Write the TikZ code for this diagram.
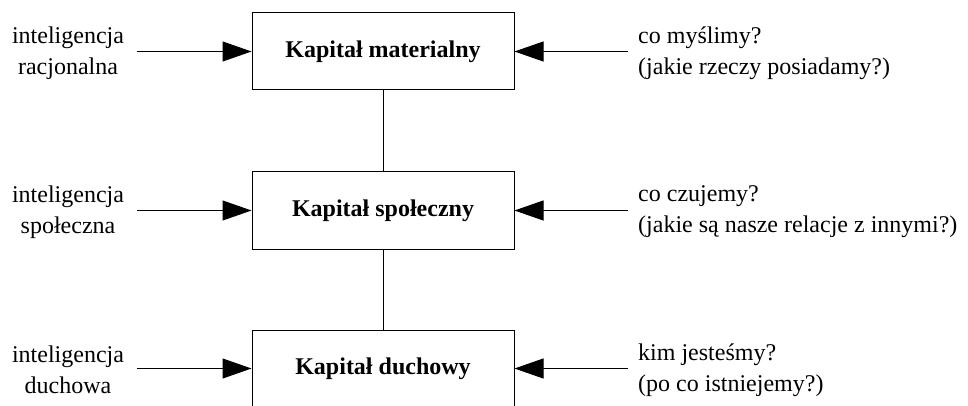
\documentclass[tikz,border=0pt]{standalone}
\usepackage{fontspec}
\setmainfont{Liberation Serif}
\usetikzlibrary{arrows.meta,calc}
\begin{document}
\begin{tikzpicture}[x=1pt,y=-1pt,
  box/.style={draw, line width=1pt, minimum width=262pt, minimum height=77pt, inner sep=0pt,
    font=\fontsize{24}{30}\selectfont\bfseries},
  lbl/.style={inner sep=0pt, font=\fontsize{24}{31}\selectfont},
  arr/.style={line width=1pt, -{Triangle[length=29pt,width=20pt]}},
  link/.style={line width=1pt}]
\useasboundingbox (0,0) rectangle (968,406);
\clip (0,0) rectangle (968,406);
% boxes
\node[box] (b1) at (383,51.5) {Kapitał materialny};
\node[box] (b2) at (383,210.5) {Kapitał społeczny};
\node[box] (b3) at (383,368.5) {Kapitał duchowy};
% left labels
\node[lbl, align=center] (l1) at (68,53) {inteligencja\\racjonalna};
\node[lbl, align=center] (l2) at (68,212) {inteligencja\\społeczna};
\node[lbl, align=center] (l3) at (68,370) {inteligencja\\duchowa};
% right labels
\node[lbl, align=left, anchor=west] (r1) at (638,53) {co myślimy?\\(jakie rzeczy posiadamy?)};
\node[lbl, align=left, anchor=west] (r2) at (638,212) {co czujemy?\\(jakie są nasze relacje z innymi?)};
\node[lbl, align=left, anchor=west] (r3) at (638,370) {kim jesteśmy?\\(po co istniejemy?)};
% arrows
\draw[arr] ($(l1.east |- b1.west)+(13pt,0)$) -- (b1.west);
\draw[arr] ($(l2.east |- b2.west)+(13pt,0)$) -- (b2.west);
\draw[arr] ($(l3.east |- b3.west)+(13pt,0)$) -- (b3.west);
\draw[arr] ($(r1.west |- b1.east)+(-10pt,0)$) -- (b1.east);
\draw[arr] ($(r2.west |- b2.east)+(-10pt,0)$) -- (b2.east);
\draw[arr] ($(r3.west |- b3.east)+(-10pt,0)$) -- (b3.east);
% links
\draw[link] (b1.south) -- (b2.north);
\draw[link] (b2.south) -- (b3.north);
\end{tikzpicture}
\end{document}
